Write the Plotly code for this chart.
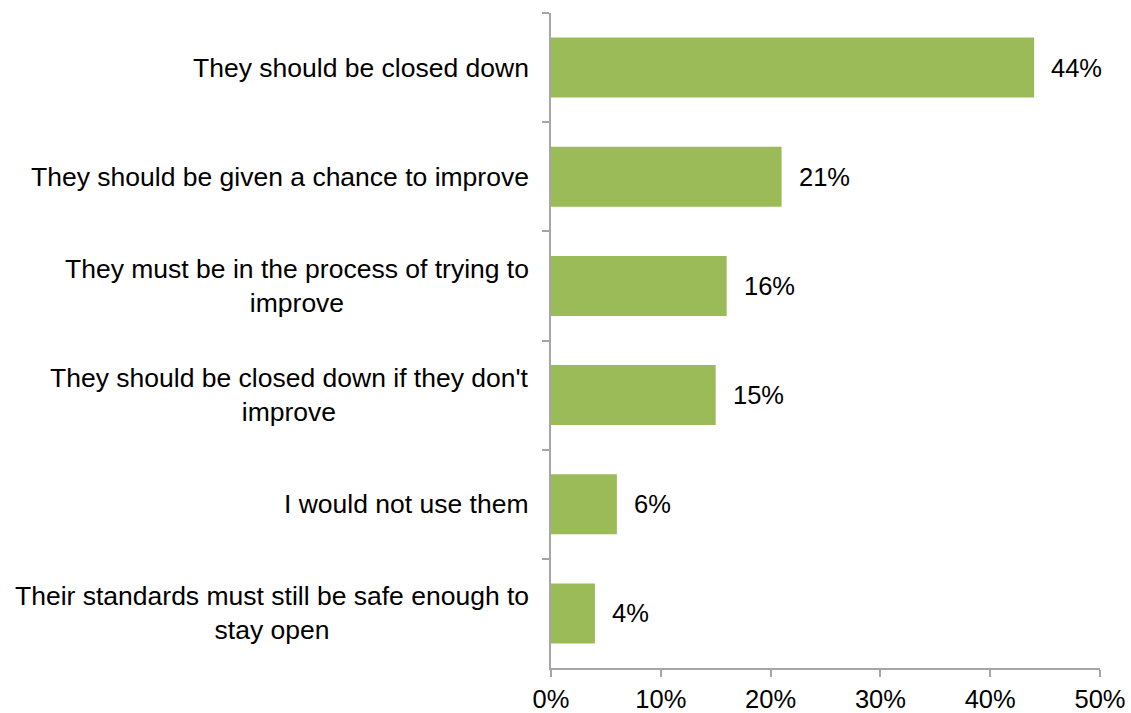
import plotly.graph_objects as go

# Survey responses, top to bottom
categories = [
    "They should be closed down",
    "They should be given a chance to improve",
    "They must be in the process of trying to<br>improve",
    "They should be closed down if they don't<br>improve",
    "I would not use them",
    "Their standards must still be safe enough to<br>stay open",
]
shares = [44, 21, 16, 15, 6, 4]
x_tick_values = [0, 10, 20, 30, 40, 50]
x_tick_labels = ["0%", "10%", "20%", "30%", "40%", "50%"]

BAR_COLOR = "#9BBB59"
AXIS_COLOR = "#A6A6A6"
FONT = "Arial, Liberation Sans, sans-serif"
LABEL_SIZE = 26.5
VALUE_SIZE = 25.5

fig = go.Figure(
    go.Bar(
        x=shares,
        y=categories,
        orientation="h",
        marker=dict(color=BAR_COLOR, line=dict(width=0)),
        width=0.55,
        hoverinfo="skip",
    )
)

annotations = []
# Value labels just past the bar ends
for cat, val in zip(categories, shares):
    annotations.append(dict(
        x=val, y=cat, xref="x", yref="y",
        text=f"{val}%", showarrow=False,
        xanchor="left", yanchor="middle", xshift=15,
        font=dict(family=FONT, size=VALUE_SIZE, color="#000000"),
    ))

# Category labels: block right-aligned against the axis, lines centred
for cat in categories:
    annotations.append(dict(
        x=0, y=cat, xref="paper", yref="y",
        text=cat, showarrow=False,
        xanchor="right", yanchor="middle", align="center",
        xshift=-20,
        font=dict(family=FONT, size=LABEL_SIZE, color="#000000"),
    ))

fig.update_layout(
    width=1131,
    height=713,
    margin=dict(l=551, r=31, t=13, b=45),
    paper_bgcolor="white",
    plot_bgcolor="white",
    showlegend=False,
    bargap=0.45,
    annotations=annotations,
    xaxis=dict(
        range=[0, 50],
        tickvals=x_tick_values,
        ticktext=x_tick_labels,
        showgrid=False,
        zeroline=False,
        showline=True,
        linecolor=AXIS_COLOR,
        linewidth=2,
        ticks="outside",
        ticklen=7,
        tickwidth=2,
        tickcolor=AXIS_COLOR,
        tickfont=dict(family=FONT, size=VALUE_SIZE, color="#000000"),
        automargin=False,
        fixedrange=True,
    ),
    yaxis=dict(
        autorange="reversed",
        showgrid=False,
        zeroline=False,
        showline=True,
        linecolor=AXIS_COLOR,
        linewidth=2,
        ticks="outside",
        tickson="boundaries",
        ticklen=7,
        tickwidth=2,
        tickcolor=AXIS_COLOR,
        showticklabels=False,
        automargin=False,
        fixedrange=True,
    ),
)

fig.write_html("out.html")
